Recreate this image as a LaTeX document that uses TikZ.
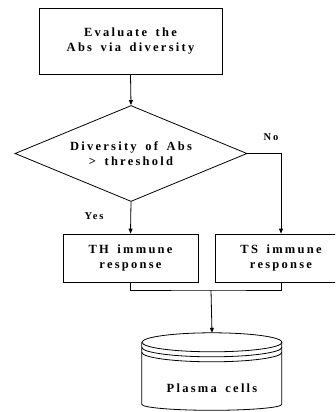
\documentclass[tikz,border=0pt]{standalone}
\usepackage{fontspec}
\setmainfont{Liberation Serif}[LetterSpace=18,WordSpace=1.6]
\usetikzlibrary{shapes.geometric,arrows.meta}
\begin{document}
\begin{tikzpicture}[x=1pt,y=-1pt,
  every node/.style={font=\fontsize{12.5}{15.5}\selectfont\bfseries, align=center},
  box/.style={draw, line width=0.8pt, inner sep=0pt},
  lbl/.style={font=\fontsize{10.5}{11}\selectfont\bfseries},
  conn/.style={line width=0.8pt},
  arr/.style={conn, -{Triangle[length=5pt,width=4pt]}},
  cyl/.style={line width=0.8pt}]
\clip (0,0) rectangle (335,412);
\node[box, minimum width=183pt, minimum height=66pt] (eval) at (130.5,41) {Evaluate the\\Abs via diversity};
\node[draw, line width=0.8pt, shape=diamond, aspect=2.42, minimum width=232pt, minimum height=96pt, inner sep=0pt] (dec) at (131,153.5) {Diversity of Abs\\> threshold};
\node[box, minimum width=135pt, minimum height=48pt] (th) at (130.5,258) {TH immune\\response};
\node[box, minimum width=132pt, minimum height=48pt] (ts) at (281,258) {TS immune\\response};
\node[lbl] (no) at (271,137) {No};
\node[lbl] (yes) at (94,216) {Yes};
\node[minimum width=140pt, minimum height=78pt, inner sep=0pt] (pc) at (212,372) {};
\node (pct) at (212,388) {Plasma cells};
\coordinate (junc) at (211,290);
\draw[arr] (eval.south) -- (dec.north);
\draw[arr] (dec.south) -- (th.north);
\draw[arr] (dec.east) -| (ts.north);
\draw[conn] (th.south) |- (junc) -| (ts.south);
\draw[arr] (junc) -- (pc.north);
% cylinder
\draw[cyl] (pc.north) ++(0,9.5) ellipse (70pt and 9.5pt);
\draw[cyl] (pc.north west) ++(0,9.5) -- ++(0,62)
  arc[start angle=180, end angle=360, x radius=70pt, y radius=6pt] -- ++(0,-62);
\draw[cyl] (pc.north west) ++(0,14.5) arc[start angle=180, end angle=360, x radius=70pt, y radius=9.5pt];
\draw[cyl] (pc.north west) ++(0,19.5) arc[start angle=180, end angle=360, x radius=70pt, y radius=9.5pt];
\end{tikzpicture}
\end{document}
